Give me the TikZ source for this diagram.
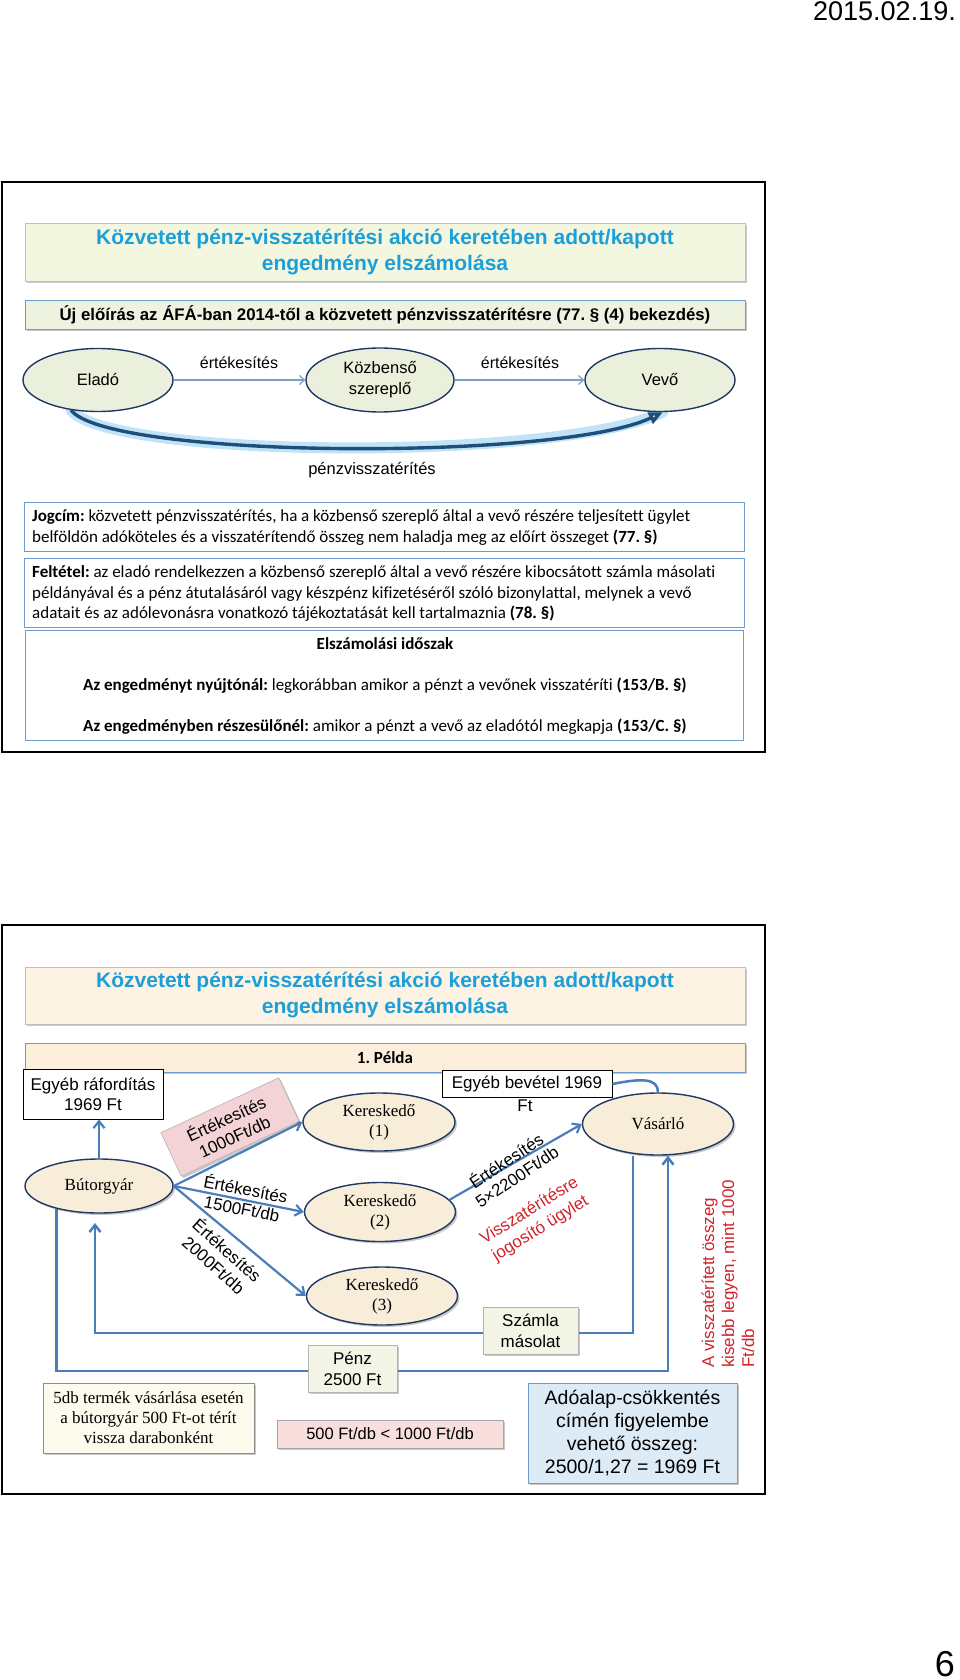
\documentclass[tikz,border=0pt]{standalone}
\usepackage{fontspec}
\setmainfont{Liberation Sans}
\newfontfamily\serifF{Liberation Serif}
\newfontfamily\calibF[Ligatures=NoCommon]{Carlito}
\usetikzlibrary{arrows.meta,shadows,shapes.geometric}
\pgfdeclarelayer{bg}
\pgfsetlayers{bg,main}
\frenchspacing

\definecolor{ttlC}{HTML}{1C9FD8}
\definecolor{navy}{HTML}{1F3864}
\definecolor{lineB}{HTML}{4A7EBB}
\definecolor{thinB}{HTML}{7E9EC8}
\definecolor{boxB}{HTML}{6F9BCB}
\definecolor{greenF}{HTML}{F3F7E0}
\definecolor{greenF2}{HTML}{EDF2E1}
\definecolor{ellG}{HTML}{EBF0DD}
\definecolor{peachF}{HTML}{FDF3E4}
\definecolor{peachF2}{HTML}{FBEEDB}
\definecolor{ellC}{HTML}{F8EDD8}
\definecolor{pinkF}{HTML}{F3D3D6}
\definecolor{pinkF2}{HTML}{F9DEDE}
\definecolor{blueF}{HTML}{DDEBF7}
\definecolor{creamF}{HTML}{FCFBEE}
\definecolor{sqF}{HTML}{F3F5E6}
\definecolor{redT}{HTML}{D2232A}
\definecolor{glowB}{HTML}{8FCDF2}
\definecolor{darkB}{HTML}{1F4E79}

\tikzset{
  shd/.style={drop shadow={shadow xshift=2pt,shadow yshift=-2pt,opacity=0.35,fill=black!60}},
  frm/.style={draw=black,line width=2.2pt,inner sep=0},
  ttlbox/.style={draw=black!25,line width=0.6pt,shd,inner sep=0,align=center,text=ttlC,
    font=\fontsize{21}{26}\selectfont\bfseries,minimum width=720},
  subbox/.style={draw=boxB,line width=1pt,shd,inner sep=0,align=center,
    font=\fontsize{16.8}{20}\selectfont\bfseries,minimum width=720,minimum height=29},
  pbox/.style={draw=boxB,fill=white,line width=1pt,inner sep=0,minimum width=720},
  ptxt/.style={inner sep=0,anchor=west,align=left,font=\calibF\fontsize{17}{21}\selectfont},
  ellA/.style={ellipse,draw=navy,line width=1.4pt,fill=ellG,inner sep=0,align=center,
    font=\fontsize{16.5}{21}\selectfont,minimum width=150,minimum height=63},
  ellB/.style={ellipse,draw=navy,line width=1.4pt,fill=ellC,inner sep=0,align=center,shd,
    font=\serifF\fontsize{17}{20}\selectfont,minimum width=151,minimum height=58},
  lbl/.style={inner sep=0,align=center,font=\fontsize{16}{20}\selectfont},
  rlbl/.style={inner sep=0,align=center,font=\fontsize{17}{20}\selectfont},
  thinarr/.style={draw=thinB,line width=1.2pt,-{Straight Barb[length=5pt,width=9pt]}},
  barr/.style={draw=lineB,line width=2.2pt,-{Straight Barb[length=7pt,width=11pt]}},
  bline/.style={draw=lineB,line width=2.5pt},
  wbox/.style={draw=black,line width=0.8pt,fill=white,inner sep=0,align=center,
    font=\fontsize{17}{20}\selectfont},
  sbox/.style={draw=black!30,line width=0.6pt,shd,inner sep=0,align=center,
    font=\fontsize{17}{21}\selectfont}
}

\begin{document}
\begin{tikzpicture}[x=1pt,y=-1pt]
\useasboundingbox (0,0) rectangle (960,1680);
\begin{pgfonlayer}{bg}
\fill[white] (0,0) rectangle (960,1680);
\end{pgfonlayer}

\node[font=\fontsize{27}{30}\selectfont,anchor=base east,inner sep=0] (date) at (956,21) {2015.02.19.};
\node[font=\fontsize{36}{40}\selectfont,anchor=base east,inner sep=0] (pg) at (955,1676) {6};

% ---------------- slide 1 ----------------
\node[frm,minimum width=763,minimum height=570] (fr1) at (383.5,467) {};
\node[ttlbox,fill=greenF,minimum height=58] (t1) at (385,252)
  {Közvetett pénz-visszatérítési akció keretében adott/kapott\\engedmény elszámolása};
\node[subbox,fill=greenF2] (s1) at (385,314.5)
  {Új előírás az ÁFÁ-ban 2014-től a közvetett pénzvisszatérítésre (77. § (4) bekezdés)};

\node[ellA] (elad) at (98,380) {Eladó};
\node[ellA,minimum width=148,minimum height=64] (kozb) at (380,380) {Közbenső\\szereplő};
\node[ellA] (vevo) at (660,380) {Vevő};

\draw[thinarr] (elad.east) -- (kozb.west);
\draw[thinarr] (kozb.east) -- (vevo.west);
\node[lbl] (l1) at (239,363) {értékesítés};
\node[lbl] (l2) at (520,363) {értékesítés};

\begin{pgfonlayer}{bg}
\draw[glowB,line width=11pt,opacity=0.55,line cap=round]
  (elad.228) .. controls +(38,49) and +(-103,49) .. (vevo.-85);
\end{pgfonlayer}
\draw[darkB,line width=3.4pt,-{Triangle[length=14pt,width=12pt,fill=white]}]
  (elad.228) .. controls +(38,49) and +(-103,49) .. (vevo.-85);
\node[lbl,font=\fontsize{16.5}{20}\selectfont] (l3) at (372,470) {pénzvisszatérítés};

\node[pbox,minimum height=49] (jog) at (384,526.5) {};
\node[ptxt] (jogT) at (32,527.5)
  {\textbf{Jogcím:} közvetett pénzvisszatérítés, ha a közbenső szereplő által a vevő részére teljesített ügylet\\
   belföldön adóköteles és a visszatérítendő összeg nem haladja meg az előírt összeget \textbf{(77. §)}};
\node[pbox,minimum height=69] (felt) at (384,592.5) {};
\node[ptxt,font=\calibF\fontsize{17}{20.5}\selectfont] (feltT) at (32,593.5)
  {\textbf{Feltétel:} az eladó rendelkezzen a közbenső szereplő által a vevő részére kibocsátott számla másolati\\
   példányával és a pénz átutalásáról vagy készpénz kifizetéséről szóló bizonylattal, melynek a vevő\\
   adatait és az adólevonásra vonatkozó tájékoztatását kell tartalmaznia \textbf{(78. §)}};
\node[pbox,minimum width=718,minimum height=110] (elsz) at (384,685) {};
\node[inner sep=0,font=\calibF\fontsize{17}{21}\selectfont] (e1) at (385,644) {\textbf{Elszámolási időszak}};
\node[inner sep=0,font=\calibF\fontsize{17}{21}\selectfont] (e2) at (385,686)
  {\textbf{Az engedményt nyújtónál:} legkorábban amikor a pénzt a vevőnek visszatéríti \textbf{(153/B. §)}};
\node[inner sep=0,font=\calibF\fontsize{17}{21}\selectfont] (e3) at (385,727)
  {\textbf{Az engedményben részesülőnél:} amikor a pénzt a vevő az eladótól megkapja \textbf{(153/C. §)}};

% ---------------- slide 2 ----------------
\node[frm,minimum width=763,minimum height=569] (fr2) at (383.5,1209.5) {};
\node[ttlbox,fill=peachF,minimum height=57] (t2) at (385,995.5)
  {Közvetett pénz-visszatérítési akció keretében adott/kapott\\engedmény elszámolása};
\node[subbox,fill=peachF2,font=\calibF\fontsize{17}{20}\selectfont\bfseries] (pelda) at (385,1057.5) {1. Példa};

\node[wbox,minimum width=140,minimum height=50] (raf) at (93,1094) {Egyéb ráfordítás\\1969 Ft};
\node[wbox,minimum width=170,minimum height=27] (bev) at (527,1084) {Egyéb bevétel 1969};
\node[inner sep=0,font=\fontsize{17}{20}\selectfont] (bevft) at (525,1106) {Ft};

\node[ellB,minimum width=148,minimum height=54] (but) at (99,1186) {Bútorgyár};
\node[ellB,minimum width=152] (k1) at (379,1122) {Kereskedő\\(1)};
\node[ellB,minimum height=59] (k2) at (380,1212) {Kereskedő\\(2)};
\node[ellB] (k3) at (382,1296) {Kereskedő\\(3)};
\node[ellB,minimum height=62] (vas) at (658,1124) {Vásárló};

\draw[barr] (but.east) -- (k1.west);
\draw[barr] (but.east) -- (k2.west);
\draw[barr] (but.east) -- (k3.west);
\draw[barr] (k2.10) -- (vas.west);
\draw[barr] (but.north) -- (but.north |- raf.south);
\draw[bline] (bev.east) .. controls +(30,-6) and +(0,-14) .. (vas.north);

\node[draw=black!30,line width=0.6pt,fill=pinkF,shd,rotate=25,minimum width=130,minimum height=48,
  inner sep=0,align=center,font=\fontsize{17}{20}\selectfont] (p1000) at (230,1127) {Értékesítés\\1000Ft/db};
\node[rlbl,rotate=-11] (p1500) at (244,1198) {Értékesítés\\1500Ft/db};
\node[rlbl,rotate=-42] (p2000) at (221,1257) {Értékesítés\\2000Ft/db};
\node[rlbl,rotate=34,font=\fontsize{17}{19}\selectfont] (p2200) at (511,1168) {Értékesítés\\5×2200Ft/db};
\node[rlbl,rotate=32,text=redT,font=\fontsize{17}{21}\selectfont] (jogos) at (535,1220) {Visszatérítésre\\jogosító ügylet};
\node[inner sep=0,rotate=90,anchor=west,align=left,text=redT,font=\fontsize{17}{20}\selectfont] (vred) at (728,1368)
  {A visszatérített összeg\\kisebb legyen, mint 1000\\Ft/db};

\coordinate (sz1) at (633,1333);
\coordinate (sz2) at (95,1213);
\coordinate (pz2) at (668,1371);
\begin{pgfonlayer}{bg}
\draw[bline,-{Straight Barb[length=7pt,width=11pt]},shorten >=10pt] (vas.south -| sz1) -- (sz1) -| (sz2);
\draw[bline,-{Straight Barb[length=7pt,width=11pt]}] (but.208) |- (pz2) -- (pz2 |- vas.south);
\end{pgfonlayer}
\node[sbox,fill=sqF,minimum width=95,minimum height=47] (szamla) at (530.5,1330.5) {Számla\\másolat};
\node[sbox,fill=sqF,minimum width=89,minimum height=47] (penz) at (352.5,1368.5) {Pénz\\2500 Ft};

\node[draw=black!45,line width=0.8pt,fill=creamF,shd,minimum width=211,minimum height=70,inner sep=0,align=center,
  font=\serifF\fontsize{17}{20}\selectfont] (db5) at (148.5,1418)
  {5db termék vásárlása esetén\\a bútorgyár 500 Ft-ot térít\\vissza darabonként};
\node[draw=black!35,line width=0.6pt,fill=pinkF2,shd,minimum width=226,minimum height=28,inner sep=0,
  font=\fontsize{16.5}{20}\selectfont] (lt) at (390,1434) {500 Ft/db < 1000 Ft/db};
\node[draw=boxB,line width=0.8pt,fill=blueF,shd,minimum width=209,minimum height=100,inner sep=0,align=center,
  font=\fontsize{19.5}{23}\selectfont] (ado) at (632.5,1433)
  {Adóalap-csökkentés\\címén figyelembe\\vehető összeg:\\2500/1,27 = 1969 Ft};
\end{tikzpicture}
\end{document}
